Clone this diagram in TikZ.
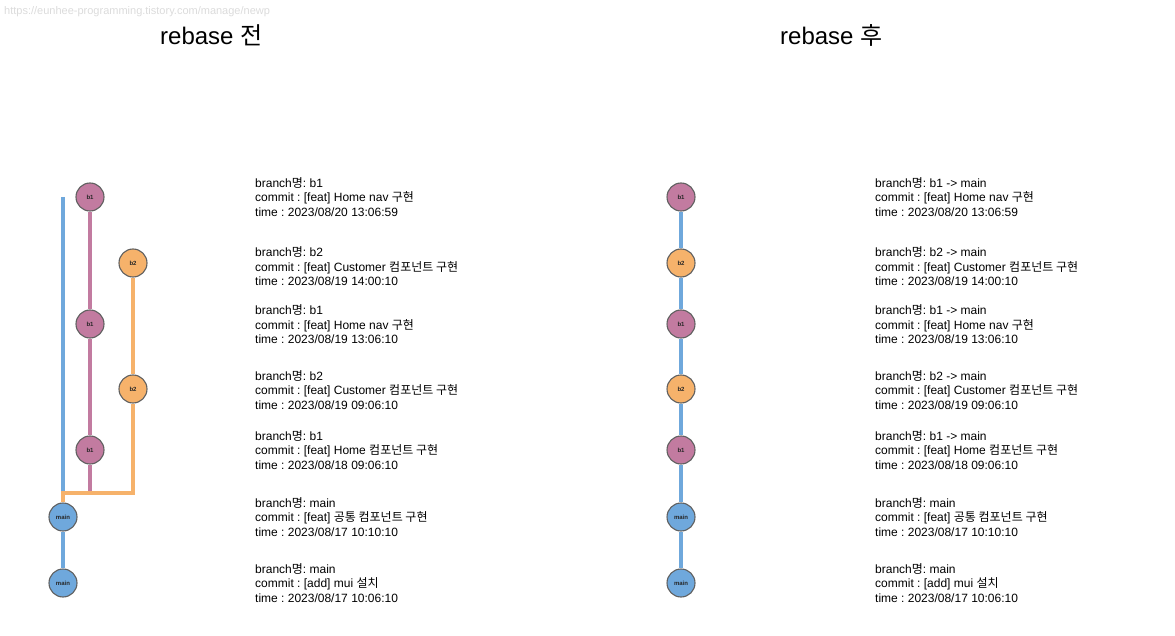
\documentclass[tikz,border=0pt]{standalone}
\usepackage{fontspec}
\setmainfont{Liberation Sans}
\newfontfamily\krfont{Noto Sans CJK KR}
\newcommand{\K}[1]{{\krfont #1}}
\usetikzlibrary{positioning}
\frenchspacing

\definecolor{bpink}{HTML}{C27BA0}
\definecolor{borange}{HTML}{F6B26B}
\definecolor{bblue}{HTML}{6FA8DC}
\definecolor{rimgray}{HTML}{606060}

\begin{document}
\begin{tikzpicture}[
  x=1pt,y=-1pt,
  commit/.style={circle,draw=rimgray,line width=1.1pt,minimum size=28pt,inner sep=0pt,
                 font=\fontsize{6}{7}\selectfont\bfseries,text=black!85},
  b1/.style={commit,fill=bpink},
  b2/.style={commit,fill=borange},
  mn/.style={commit,fill=bblue},
  mainline/.style={bblue,line width=4pt},
  b1line/.style={bpink,line width=4pt},
  b2line/.style={borange,line width=4pt},
  info/.style={anchor=west,inner sep=0pt,align=left,font=\fontsize{12}{14.5}\selectfont},
  title/.style={anchor=west,inner sep=0pt,font=\fontsize{24}{28}\selectfont}
]
\useasboundingbox (0,0) rectangle (1175,636);

\node[anchor=west,inner sep=0pt,text=black!14,font=\fontsize{11}{13}\selectfont] (url) at (4,12)
  {https://eunhee-programming.tistory.com/manage/newp};
\node[title] (tleft) at (160,35) {rebase \K{전}};
\node[title] (tright) at (780,35) {rebase \K{후}};

% before rebase
\node[b1] (la1) at (90,197) {b1};
\node[b2] (lb1) at (133,263) {b2};
\node[b1] (la2) at (90,324) {b1};
\node[b2] (lb2) at (133,389) {b2};
\node[b1] (la3) at (90,450) {b1};
\node[mn] (lm2) at (63,517) {main};
\node[mn] (lm1) at (63,583) {main};
\coordinate (btop) at (63,197);
\coordinate (pjoin) at (90,495);
\coordinate (ojoin) at (63,493);

\draw[mainline] (btop) -- (lm2);
\draw[mainline] (lm2) -- (lm1);
\draw[b1line] (la1) -- (la2);
\draw[b1line] (la2) -- (la3);
\draw[b1line] (la3) -- (pjoin);
\draw[b2line] (lb1) -- (lb2);
\draw[b2line] (lb2) |- (ojoin) -- (lm2);

\node[info] (tl1) at (255,197) {branch\K{명}: b1\\commit : [feat] Home nav \K{구현}\\time : 2023/08/20 13:06:59};
\node[info] (tl2) at (255,266.5) {branch\K{명}: b2\\commit : [feat] Customer \K{컴포넌트 구현}\\time : 2023/08/19 14:00:10};
\node[info] (tl3) at (255,324.5) {branch\K{명}: b1\\commit : [feat] Home nav \K{구현}\\time : 2023/08/19 13:06:10};
\node[info] (tl4) at (255,390) {branch\K{명}: b2\\commit : [feat] Customer \K{컴포넌트 구현}\\time : 2023/08/19 09:06:10};
\node[info] (tl5) at (255,450) {branch\K{명}: b1\\commit : [feat] Home \K{컴포넌트 구현}\\time : 2023/08/18 09:06:10};
\node[info] (tl6) at (255,517) {branch\K{명}: main\\commit : [feat] \K{공통 컴포넌트 구현}\\time : 2023/08/17 10:10:10};
\node[info] (tl7) at (255,583) {branch\K{명}: main\\commit : [add] mui \K{설치}\\time : 2023/08/17 10:06:10};

% after rebase
\node[b1] (ra1) at (681,197) {b1};
\node[b2] (rb1) at (681,263) {b2};
\node[b1] (ra2) at (681,324) {b1};
\node[b2] (rb2) at (681,389) {b2};
\node[b1] (ra3) at (681,450) {b1};
\node[mn] (rm2) at (681,517) {main};
\node[mn] (rm1) at (681,583) {main};

\draw[mainline] (ra1) -- (rb1);
\draw[mainline] (rb1) -- (ra2);
\draw[mainline] (ra2) -- (rb2);
\draw[mainline] (rb2) -- (ra3);
\draw[mainline] (ra3) -- (rm2);
\draw[mainline] (rm2) -- (rm1);

\node[info] (tr1) at (875,197) {branch\K{명}: b1 -> main\\commit : [feat] Home nav \K{구현}\\time : 2023/08/20 13:06:59};
\node[info] (tr2) at (875,266.5) {branch\K{명}: b2 -> main\\commit : [feat] Customer \K{컴포넌트 구현}\\time : 2023/08/19 14:00:10};
\node[info] (tr3) at (875,324.5) {branch\K{명}: b1 -> main\\commit : [feat] Home nav \K{구현}\\time : 2023/08/19 13:06:10};
\node[info] (tr4) at (875,390) {branch\K{명}: b2 -> main\\commit : [feat] Customer \K{컴포넌트 구현}\\time : 2023/08/19 09:06:10};
\node[info] (tr5) at (875,450) {branch\K{명}: b1 -> main\\commit : [feat] Home \K{컴포넌트 구현}\\time : 2023/08/18 09:06:10};
\node[info] (tr6) at (875,517) {branch\K{명}: main\\commit : [feat] \K{공통 컴포넌트 구현}\\time : 2023/08/17 10:10:10};
\node[info] (tr7) at (875,583) {branch\K{명}: main\\commit : [add] mui \K{설치}\\time : 2023/08/17 10:06:10};
\end{tikzpicture}
\end{document}
